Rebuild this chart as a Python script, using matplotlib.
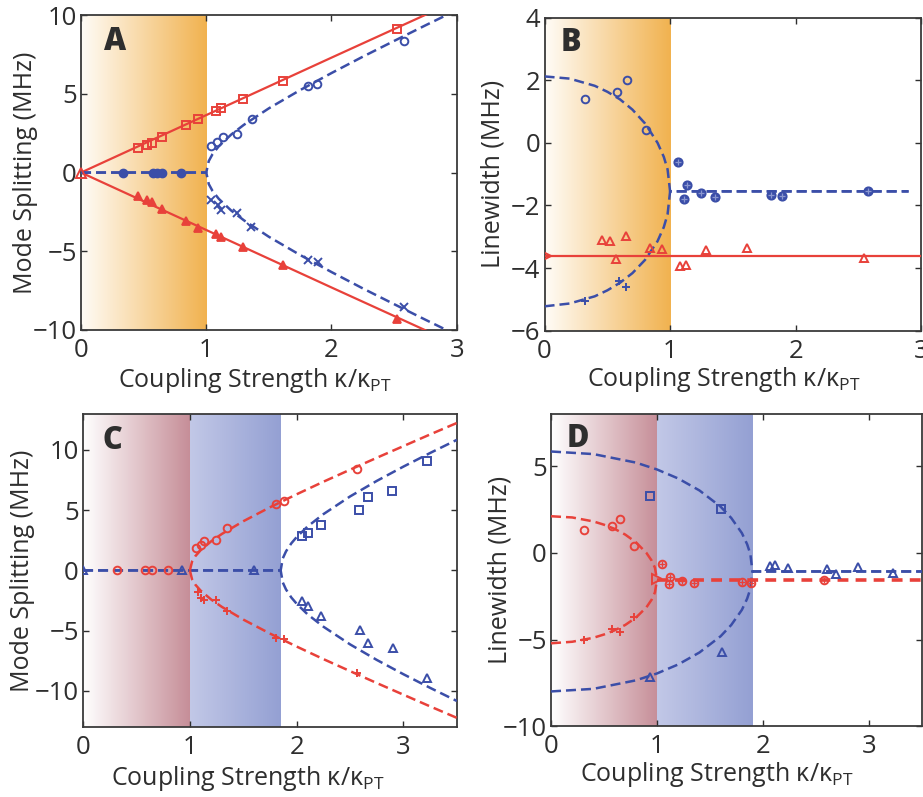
import matplotlib
matplotlib.use("Agg")
import matplotlib.pyplot as plt
import numpy as np
from matplotlib.colors import LinearSegmentedColormap

plt.rcParams['font.family'] = ['Open Sans', 'DejaVu Sans']
plt.rcParams['mathtext.default'] = 'regular'

RED = '#E8413A'
BLUE = '#3B4EA8'
TXT = '#2e2e2e'

# ---------------- panel A : mode splitting ----------------
a_sq_x = [0.457, 0.524, 0.564, 0.644, 0.838, 0.936, 1.077, 1.114, 1.29, 1.61, 2.52]
a_sq_y = [1.53, 1.75, 1.85, 2.28, 3.02, 3.4, 3.9, 4.07, 4.65, 5.81, 9.15]
a_tri_x = [0.0, 0.457, 0.524, 0.564, 0.644, 0.838, 0.936, 1.077, 1.114, 1.29, 1.61, 2.52]
a_tri_y = [0.0, -1.5, -1.75, -1.85, -2.3, -3.1, -3.5, -3.9, -4.1, -4.7, -5.9, -9.3]
a_dot_x = [0.332, 0.572, 0.604, 0.649, 0.798]
a_dot_y = [0, 0, 0, 0, 0]
a_circ_x = [1.037, 1.083, 1.131, 1.248, 1.367, 1.814, 1.886, 2.58]
a_circ_y = [1.7, 1.96, 2.28, 2.42, 3.4, 5.49, 5.6, 8.37]
a_x_x = [1.037, 1.095, 1.121, 1.248, 1.354, 1.814, 1.893, 2.58]
a_x_y = [-1.75, -2.06, -2.38, -2.59, -3.48, -5.56, -5.66, -8.52]
a_red_fit_x = [0, 1, 2, 2.8]
a_red_fit_y = [0, 3.65, 7.3, 10.2]
a_blue_fit_x = [0, 1.0, 1.02, 1.05, 1.1, 1.2, 1.3, 1.5, 1.75, 2.0, 2.25, 2.5, 2.75, 3.0]
a_blue_fit_y = [0, 0, 0.73, 1.17, 1.67, 2.42, 3.03, 4.08, 5.24, 6.32, 7.36, 8.36, 9.35, 10.32]

# ---------------- panel B : linewidth ----------------
b_circ_x = [0.32, 0.579, 0.653, 0.805]
b_circ_y = [1.39, 1.62, 2.0, 0.4]
b_x_x = [0.32, 0.595, 0.645]
b_x_y = [-5.06, -4.4, -4.6]
b_op_x = [1.059, 1.107, 1.133, 1.245, 1.355, 1.805, 1.888, 2.573]
b_op_y = [-0.6, -1.79, -1.36, -1.6, -1.74, -1.65, -1.7, -1.54]
b_tri_x = [0.461, 0.52, 0.568, 0.645, 0.84, 0.933, 1.08, 1.128, 1.288, 1.613, 2.541]
b_tri_y = [-3.11, -3.14, -3.71, -2.98, -3.36, -3.39, -3.94, -3.91, -3.43, -3.36, -3.68]
b_red_level = -3.6
b_circle_x = [0, 0.2, 0.4, 0.5, 0.6, 0.7, 0.8, 0.9, 0.95, 0.98, 1.0, 2.9]
b_circle_up = [2.12, 2.05, 1.82, 1.63, 1.39, 1.06, 0.62, 0.0, -0.45, -0.85, -1.55, -1.55]
b_circle_lo = [-5.22, -5.13, -4.9, -4.71, -4.47, -4.16, -3.74, -3.14, -2.69, -2.28, -1.55, -1.55]

# ---------------- panel C : mode splitting ----------------
c_rdot_x = [0.316, 0.58, 0.65, 0.796]
c_rdot_y = [0, 0, 0, 0]
c_btri0_x = [0.0, 0.923, 1.605]
c_btri0_y = [0, 0, 0]
c_rcirc_x = [1.054, 1.1, 1.131, 1.24, 1.348, 1.803, 1.884, 2.566]
c_rcirc_y = [1.86, 2.13, 2.41, 2.55, 3.52, 5.54, 5.73, 8.42]
c_rx_x = [1.078, 1.1, 1.131, 1.24, 1.348, 1.803, 1.884, 2.566]
c_rx_y = [-1.83, -2.3, -2.44, -2.49, -3.41, -5.62, -5.71, -8.48]
c_bsq_x = [2.05, 2.107, 2.231, 2.588, 2.665, 2.891, 3.223]
c_bsq_y = [2.83, 3.1, 3.8, 5.04, 6.09, 6.57, 9.06]
c_btri_x = [2.05, 2.107, 2.231, 2.597, 2.672, 2.898, 3.223]
c_btri_y = [-2.58, -2.99, -3.77, -4.93, -6.04, -6.45, -8.95]
c_red_fit_x = [1.0, 1.02, 1.05, 1.1, 1.2, 1.3, 1.5, 1.75, 2.0, 2.25, 2.5, 2.75, 3.0, 3.25, 3.5]
c_red_fit_y = [0, 0.73, 1.17, 1.67, 2.42, 3.03, 4.08, 5.24, 6.32, 7.36, 8.36, 9.35, 10.32, 11.29, 12.24]
c_blue_fit_x = [0, 1.85, 1.87, 1.9, 1.95, 2.0, 2.1, 2.25, 2.5, 2.75, 3.0, 3.25, 3.5]
c_blue_fit_y = [0, 0, 1.0, 1.58, 2.25, 2.77, 3.63, 4.67, 6.14, 7.43, 8.62, 9.75, 10.84]

# ---------------- panel D : linewidth ----------------
d_bsq_x = [0.932, 1.6]
d_bsq_y = [3.3, 2.53]
d_btri_x = [0.932, 1.608, 2.065, 2.109, 2.238, 2.6, 2.685, 2.899, 3.23]
d_btri_y = [-7.14, -5.75, -0.76, -0.7, -0.86, -0.9, -1.24, -0.8, -1.14]
d_rcirc_x = [0.315, 0.576, 0.655, 0.787]
d_rcirc_y = [1.33, 1.58, 1.96, 0.38]
d_rx_x = [0.315, 0.576, 0.655, 0.787]
d_rx_y = [-5.05, -4.38, -4.57, -3.68]
d_rop_x = [1.048, 1.111, 1.121, 1.237, 1.347, 1.797, 1.882, 2.575]
d_rop_y = [-0.61, -1.81, -1.37, -1.62, -1.71, -1.66, -1.71, -1.56]
d_blue_fit_x = [0, 0.4, 0.8, 1.0, 1.2, 1.4, 1.6, 1.7, 1.8, 1.85, 1.88, 1.9, 3.5]
d_blue_fit_up = [5.86, 5.71, 5.22, 4.82, 4.3, 3.61, 2.67, 2.02, 1.15, 0.5, -0.06, -1.07, -1.07]
d_blue_fit_lo = [-8.0, -7.85, -7.36, -6.96, -6.44, -5.75, -4.81, -4.16, -3.29, -2.64, -2.08, -1.07, -1.07]
d_red_fit_x = [0, 0.2, 0.4, 0.5, 0.6, 0.7, 0.8, 0.9, 0.95, 0.98, 1.0]
d_red_fit_up = [2.12, 2.05, 1.82, 1.63, 1.39, 1.06, 0.62, 0.0, -0.45, -0.85, -1.55]
d_red_fit_lo = [-5.22, -5.13, -4.9, -4.71, -4.47, -4.16, -3.74, -3.14, -2.69, -2.28, -1.55]
d_red_flat_x = [1.0, 3.5]
d_red_flat_y = [-1.55, -1.55]

fig = plt.figure(figsize=(9.23, 7.97), dpi=100)
axA = fig.add_axes([0.0878, 0.586, 0.407, 0.395])
axB = fig.add_axes([0.590, 0.585, 0.408, 0.393])
axC = fig.add_axes([0.090, 0.0878, 0.405, 0.393])
axD = fig.add_axes([0.597, 0.0890, 0.402, 0.391])


def band(ax, x0, x1, c0, c1, ylim):
    cm = LinearSegmentedColormap.from_list('b', [c0, c1])
    grad = np.linspace(0, 1, 256).reshape(1, -1)
    ax.imshow(grad, cmap=cm, extent=[x0, x1, ylim[0], ylim[1]], aspect='auto',
              zorder=0, interpolation='bicubic')


def style(ax, xlim, ylim, xt, yt, ylab, letter, lx, ly, xlc, ylc):
    ax.set_xlim(*xlim)
    ax.set_ylim(*ylim)
    ax.set_xticks(xt)
    ax.set_yticks(yt)
    ax.set_yticklabels([str(v).replace('-', '\u2212') for v in yt])
    ax.tick_params(direction='in', top=True, right=True, length=4, width=1,
                   labelsize=18.5, colors=TXT, pad=3)
    ax.tick_params(axis='x', pad=6)
    for s in ax.spines.values():
        s.set_linewidth(1.3)
        s.set_color('#3a3a3a')
    ax.set_xlabel('Coupling Strength \u03ba/\u03ba$_{PT}$', fontsize=18, color=TXT)
    ax.set_ylabel(ylab, fontsize=18, color=TXT)
    ax.xaxis.set_label_coords(*xlc)
    ax.xaxis.label.set_va('center')
    ax.yaxis.set_label_coords(*ylc)
    ax.yaxis.label.set_va('center')
    ax.text(lx, ly, letter, transform=ax.transAxes, fontsize=22, fontweight='heavy',
            color=TXT, ha='center', va='center', zorder=6)


dash = dict(ls=(0, (4, 2)), lw=1.8)
mk = dict(ls='none', ms=5.5, mew=1.4, mfc='none', zorder=5)

# A
band(axA, 0, 1, '#FFFCF7', '#F1B24F', (-10, 10))
axA.plot(a_red_fit_x, a_red_fit_y, color=RED, lw=1.6, zorder=3)
axA.plot(a_red_fit_x, [-v for v in a_red_fit_y], color=RED, lw=1.6, zorder=3)
axA.plot(a_blue_fit_x, a_blue_fit_y, color=BLUE, zorder=3, **dash)
axA.plot(a_blue_fit_x, [-v for v in a_blue_fit_y], color=BLUE, zorder=3, **dash)
axA.plot(a_sq_x, a_sq_y, marker='s', color=RED, **mk)
axA.plot(a_tri_x[1:], a_tri_y[1:], marker='^', color=RED, ls='none', ms=6, mew=1.3, mfc=RED, zorder=5)
axA.plot(a_tri_x[:1], a_tri_y[:1], marker='^', color=RED, ls='none', ms=7, mew=1.4, mfc='none', zorder=5, clip_on=False)
axA.plot(a_dot_x, a_dot_y, marker='o', color=BLUE, ls='none', ms=6, mfc=BLUE, zorder=5)
axA.plot(a_circ_x, a_circ_y, marker='o', color=BLUE, **mk)
axA.plot(a_x_x, a_x_y, marker='x', color=BLUE, **mk)
style(axA, (0, 3), (-10, 10), [0, 1, 2, 3], [-10, -5, 0, 5, 10],
      'Mode Splitting (MHz)', 'A', 0.09, 0.914, (0.463, -0.162), (-0.149, 0.5))

# B
band(axB, 0, 1, '#FFFCF7', '#F1B24F', (-6, 4))
axB.axhline(b_red_level, color=RED, lw=1.6, zorder=3)
axB.plot([0], [b_red_level], marker='>', color=RED, ls='none', ms=9, mew=1.5, mfc='none', zorder=5)
axB.plot(b_circle_x, b_circle_up, color=BLUE, zorder=3, **dash)
axB.plot(b_circle_x, b_circle_lo, color=BLUE, zorder=3, **dash)
axB.plot(b_circ_x, b_circ_y, marker='o', color=BLUE, **mk)
axB.plot(b_x_x, b_x_y, marker='+', color=BLUE, **mk)
axB.plot(b_op_x, b_op_y, marker='o', color=BLUE, ls='none', ms=6, mew=1.3, mfc=BLUE, zorder=5)
axB.plot(b_op_x, b_op_y, marker='+', color='#8a96d0', ls='none', ms=5, mew=0.9, zorder=6)
axB.plot(b_tri_x, b_tri_y, marker='^', color=RED, **mk)
style(axB, (0, 3), (-6, 4), [0, 1, 2, 3], [-6, -4, -2, 0, 2, 4],
      'Linewidth (MHz)', 'B', 0.07, 0.92, (0.477, -0.155), (-0.138, 0.5))

# C
band(axC, 0, 1, '#FFFFFF', '#C68E98', (-13, 13))
band(axC, 1, 1.85, '#C2C8E7', '#94A0D3', (-13, 13))
axC.plot(c_blue_fit_x, c_blue_fit_y, color=BLUE, zorder=3, **dash)
axC.plot(c_blue_fit_x, [-v for v in c_blue_fit_y], color=BLUE, zorder=3, **dash)
axC.plot(c_red_fit_x, c_red_fit_y, color=RED, zorder=3, **dash)
axC.plot(c_red_fit_x, [-v for v in c_red_fit_y], color=RED, zorder=3, **dash)
axC.plot(c_rdot_x, c_rdot_y, marker='o', color=RED, **mk)
axC.plot(c_btri0_x, c_btri0_y, marker='^', color=BLUE, **mk)
axC.plot(c_rcirc_x, c_rcirc_y, marker='o', color=RED, **mk)
axC.plot(c_rx_x, c_rx_y, marker='+', color=RED, **mk)
axC.plot(c_bsq_x, c_bsq_y, marker='s', color=BLUE, **mk)
axC.plot(c_btri_x, c_btri_y, marker='^', color=BLUE, **mk)
style(axC, (0, 3.5), (-13, 13), [0, 1, 2, 3], [-10, -5, 0, 5, 10],
      'Mode Splitting (MHz)', 'C', 0.078, 0.914, (0.44, -0.165), (-0.163, 0.5))

# D
band(axD, 0, 1, '#FFFFFF', '#C68E98', (-10, 8))
band(axD, 1, 1.9, '#C2C8E7', '#94A0D3', (-10, 8))
axD.plot(d_blue_fit_x, d_blue_fit_up, color=BLUE, zorder=3, **dash)
axD.plot(d_blue_fit_x, d_blue_fit_lo, color=BLUE, zorder=3, **dash)
axD.plot(d_red_fit_x, d_red_fit_up, color=RED, zorder=3, **dash)
axD.plot(d_red_fit_x, d_red_fit_lo, color=RED, zorder=3, **dash)
axD.plot(d_red_flat_x, d_red_flat_y, color=RED, zorder=3, ls=(0, (3, 2)), lw=2.6)
axD.plot([1.0], [-1.5], marker='>', color=RED, ls='none', ms=7, mew=1.4, mfc='none', zorder=5)
axD.plot(d_bsq_x, d_bsq_y, marker='s', color=BLUE, **mk)
axD.plot(d_btri_x, d_btri_y, marker='^', color=BLUE, **mk)
axD.plot(d_rcirc_x, d_rcirc_y, marker='o', color=RED, **mk)
axD.plot(d_rx_x, d_rx_y, marker='+', color=RED, **mk)
axD.plot(d_rop_x, d_rop_y, marker='o', color=RED, **mk)
axD.plot(d_rop_x, d_rop_y, marker='+', color=RED, ls='none', ms=5, mew=1.0, zorder=6)
style(axD, (0, 3.5), (-10, 8), [0, 1, 2, 3], [-10, -5, 0, 5],
      'Linewidth (MHz)', 'D', 0.073, 0.92, (0.447, -0.155), (-0.137, 0.5))

fig.savefig('out.png', dpi=100)
